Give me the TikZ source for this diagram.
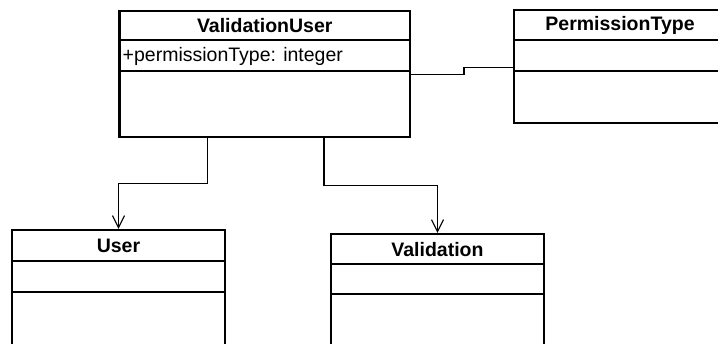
\documentclass[tikz,border=0pt]{standalone}
\usepackage{fontspec}
\setmainfont{Liberation Sans}
\usetikzlibrary{arrows.meta,calc}

\tikzset{
  classbox/.style={draw=black, line width=2.3pt, fill=white, rectangle, inner sep=0pt},
  divider/.style={draw=black, line width=2.1pt},
  classname/.style={font=\fontsize{19.5}{22}\selectfont\bfseries, text=black, inner sep=0pt},
  member/.style={font=\fontsize{19.5}{22}\selectfont, text=black, inner sep=0pt, anchor=west},
  link/.style={draw=black, line width=1.1pt},
  depends/.style={link, -{Straight Barb[length=12pt, width=12pt, line width=1.1pt]}}
}

\begin{document}
\begin{tikzpicture}[x=1pt, y=-1pt]
  \useasboundingbox (0,0) rectangle (718,343);

  % class boxes
  \node[classbox, minimum width=290.5pt, minimum height=126.3pt] (vu)   at (264.75,73.85) {};
  \node[classbox, minimum width=212pt,   minimum height=112.7pt] (pt)   at (620,66.35)    {};
  \node[classbox, minimum width=213pt,   minimum height=122pt]   (user) at (118.5,291)    {};
  \node[classbox, minimum width=213pt,   minimum height=118pt]   (val)  at (437.5,293)    {};

  % compartment dividers
  \draw[divider] (vu.west |- 0,40)     -- (vu.east |- 0,40);
  \draw[divider] (vu.west |- 0,70.7)   -- (vu.east |- 0,70.7);
  \draw[divider] (pt.west |- 0,40)     -- (pt.east |- 0,40);
  \draw[divider] (pt.west |- 0,70.7)   -- (pt.east |- 0,70.7);
  \draw[divider] (user.west |- 0,260.7) -- (user.east |- 0,260.7);
  \draw[divider] (user.west |- 0,291.7) -- (user.east |- 0,291.7);
  \draw[divider] (val.west |- 0,264)   -- (val.east |- 0,264);
  \draw[divider] (val.west |- 0,294)   -- (val.east |- 0,294);

  % class names and attributes
  \node[classname] (vuName)   at (264.75,25.5) {ValidationUser};
  \node[member]    (vuAttr)   at (122.5,56)    {+permissionType: integer};
  \node[classname] (ptName)   at (620,25.5)    {PermissionType};
  \node[classname] (userName) at (118.5,245.5) {User};
  \node[classname] (valName)  at (437.5,249.5) {Validation};

  % connectors
  \draw[link] (vu.east |- 0,74.7) -| (464,71) |- (pt.west |- 0,67.3);
  \draw[depends] (vu.south -| 207.3,0) |- (user.north |- 0,183.3) -- (user.north);
  \draw[depends] (vu.south -| 324,0)   |- (val.north |- 0,185.3)  -- (val.north);
\end{tikzpicture}
\end{document}
